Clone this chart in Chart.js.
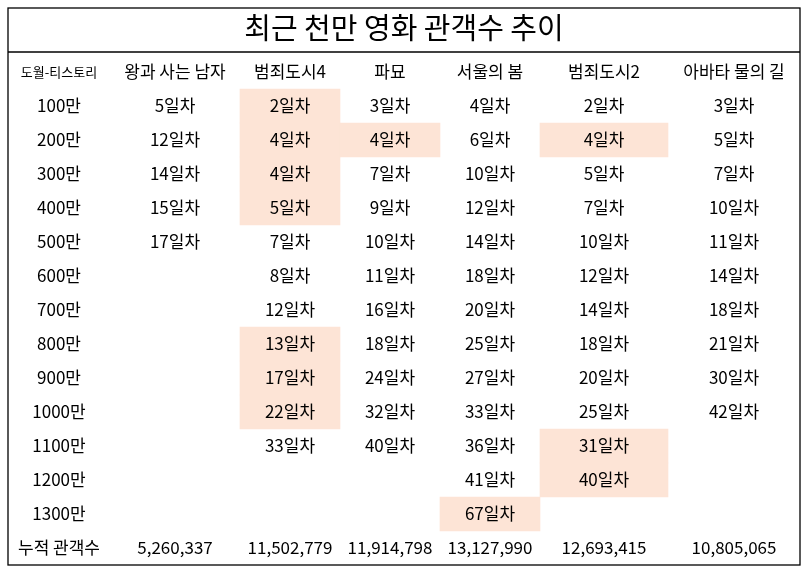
<!DOCTYPE html>
<html><head><meta charset="utf-8">
<script src="https://cdn.jsdelivr.net/npm/chart.js@4"></script>
<style>html,body{margin:0;background:#fff}#c{display:block}</style>
</head><body><canvas id="c" width="807" height="571"></canvas>
<script>
const titleText = '최근 천만 영화 관객수 추이';
const cornerLabel = '도월-티스토리';
const movies = ['왕과 사는 남자','범죄도시4','파묘','서울의 봄','범죄도시2','아바타 물의 길'];
const milestones = ['100만','200만','300만','400만','500만','600만','700만','800만','900만','1000만','1100만','1200만','1300만'];
const totalLabel = '누적 관객수';
const days_king = [5,12,14,15,17];
const days_crime4 = [2,4,4,5,7,8,12,13,17,22,33];
const days_exhuma = [3,4,7,9,10,11,16,18,24,32,40];
const days_seoul = [4,6,10,12,14,18,20,25,27,33,36,41,67];
const days_crime2 = [2,4,5,7,10,12,14,18,20,25,31,40];
const days_avatar = [3,5,7,10,11,14,18,21,30,42];
const totals = ['5,260,337','11,502,779','11,914,798','13,127,990','12,693,415','10,805,065'];
const allDays = [days_king,days_crime4,days_exhuma,days_seoul,days_crime2,days_avatar];
const highlights = [[1,'100만'],[1,'200만'],[1,'300만'],[1,'400만'],[1,'800만'],[1,'900만'],[1,'1000만'],
  [2,'200만'],[3,'1300만'],[4,'200만'],[4,'1100만'],[4,'1200만']];

const colEdges = [0,102,232,332,432,532,660,792];
const rows = ['header',...milestones,'total'];
const font = '"Noto Sans CJK KR","Noto Sans",sans-serif';

const tablePlugin = {
  id:'table',
  afterDatasetsDraw(chart){
    const {ctx, scales:{x,y}} = chart;
    const cx = i => x.getPixelForValue((colEdges[i]+colEdges[i+1])/2);
    ctx.save();
    ctx.fillStyle='#000'; ctx.textAlign='center'; ctx.textBaseline='middle';
    const yp = r => y.getPixelForValue(r);
    ctx.font = '13px '+font; ctx.fillText(cornerLabel, cx(0), yp('header'));
    ctx.font = '17px '+font;
    movies.forEach((m,i)=>ctx.fillText(m, cx(i+1), yp('header')));
    milestones.forEach(m=>ctx.fillText(m, cx(0), yp(m)));
    allDays.forEach((arr,i)=>arr.forEach((d,j)=>ctx.fillText(d+'일차', cx(i+1), yp(milestones[j]))));
    ctx.fillText(totalLabel, cx(0), yp('total'));
    totals.forEach((t,i)=>ctx.fillText(t, cx(i+1), yp('total')));
    const L = x.getPixelForValue(colEdges[0]), R = x.getPixelForValue(colEdges[7]);
    ctx.font = '29px '+font;
    ctx.fillText(titleText, (L+R)/2, 28);
    ctx.strokeStyle='#000'; ctx.lineWidth=1.3;
    ctx.strokeRect(L, 8, R-L, chart.chartArea.bottom-8);
    ctx.beginPath(); ctx.moveTo(L,52); ctx.lineTo(R,52); ctx.stroke();
    ctx.restore();
  }
};

new Chart(document.getElementById('c'),{
  type:'bar',
  data:{labels:rows,datasets:[{
    data: highlights.map(([i,m])=>({y:m,x:[colEdges[i+1],colEdges[i+2]]})),
    backgroundColor:'#fde4d6', borderWidth:0, barPercentage:1, categoryPercentage:1
  }]},
  options:{
    indexAxis:'y', responsive:false, animation:false,
    layout:{padding:{top:55,left:8,right:7,bottom:6}},
    plugins:{legend:{display:false},tooltip:{enabled:false}},
    scales:{
      x:{type:'linear',min:colEdges[0],max:colEdges[7],display:false},
      y:{type:'category',display:false,offset:true}
    }
  },
  plugins:[tablePlugin]
});
</script></body></html>
